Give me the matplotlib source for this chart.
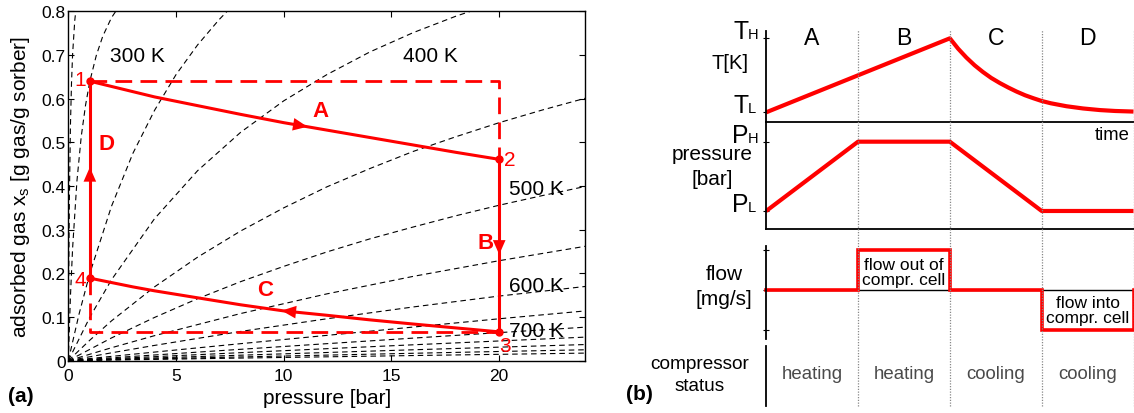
import numpy as np
import matplotlib
matplotlib.use("Agg")
import matplotlib.pyplot as plt
from matplotlib.lines import Line2D
from matplotlib import transforms

plt.rcParams['font.family'] = ['Liberation Sans', 'DejaVu Sans']
plt.rcParams['mathtext.fontset'] = 'custom'
plt.rcParams['mathtext.rm'] = 'Liberation Sans'

# -----------------------------
# (a) isotherms
# -----------------------------
iso_250_p = [0, 0.02, 0.05, 0.1, 0.15, 0.2, 0.3, 0.4]
iso_250_x = [0, 0.19, 0.37, 0.54, 0.638, 0.702, 0.779, 0.825]
iso_300_p = [0, 0.1, 0.2, 0.4, 0.6, 0.8, 1.0, 1.3, 1.6, 2.0, 2.5]
iso_300_x = [0, 0.148, 0.258, 0.411, 0.513, 0.585, 0.640, 0.699, 0.743, 0.785, 0.822]
iso_350_p = [0, 0.5, 1, 2, 3, 4, 5, 6, 7, 8]
iso_350_x = [0, 0.107, 0.200, 0.353, 0.475, 0.573, 0.655, 0.723, 0.781, 0.832]
iso_400_p = [0, 1, 2, 4, 6, 8, 10, 12, 14, 16, 18, 20]
iso_400_x = [0, 0.0996, 0.185, 0.325, 0.435, 0.523, 0.595, 0.655, 0.707, 0.751, 0.789, 0.822]
iso_450_p = [0, 1, 2, 4, 6, 8, 10, 12, 14, 16, 18, 20, 22, 24]
iso_450_x = [0, 0.047, 0.091, 0.169, 0.237, 0.297, 0.350, 0.398, 0.440, 0.479, 0.513, 0.545, 0.574, 0.601]
iso_500_p = [0, 2, 4, 6, 8, 10, 12, 14, 16, 18, 20, 22, 24]
iso_500_x = [0, 0.052, 0.099, 0.142, 0.181, 0.216, 0.249, 0.279, 0.306, 0.332, 0.356, 0.378, 0.399]
iso_550_p = [0, 2, 4, 8, 12, 16, 20, 24]
iso_550_x = [0, 0.0296, 0.0573, 0.108, 0.153, 0.193, 0.229, 0.262]
iso_600_p = [0, 2, 4, 8, 12, 16, 20, 24]
iso_600_x = [0, 0.018, 0.035, 0.067, 0.096, 0.123, 0.148, 0.170]
iso_hi_p = [0, 4, 8, 12, 16, 20, 24]
iso_650_x = [0, 0.0197, 0.039, 0.058, 0.077, 0.096, 0.114]
iso_700_x = [0, 0.0131, 0.0261, 0.039, 0.0517, 0.0643, 0.0768]
iso_750_x = [0, 0.0092, 0.0184, 0.0275, 0.0364, 0.0452, 0.054]
iso_800_x = [0, 0.0063, 0.0126, 0.0188, 0.025, 0.031, 0.037]
iso_850_x = [0, 0.0043, 0.0086, 0.0128, 0.017, 0.0211, 0.025]
iso_900_x = [0, 0.003, 0.006, 0.0089, 0.0118, 0.0146, 0.0174]

isotherms = [
    (iso_250_p, iso_250_x), (iso_300_p, iso_300_x), (iso_350_p, iso_350_x),
    (iso_400_p, iso_400_x), (iso_450_p, iso_450_x), (iso_500_p, iso_500_x),
    (iso_550_p, iso_550_x), (iso_600_p, iso_600_x), (iso_hi_p, iso_650_x),
    (iso_hi_p, iso_700_x), (iso_hi_p, iso_750_x), (iso_hi_p, iso_800_x),
    (iso_hi_p, iso_850_x), (iso_hi_p, iso_900_x),
]

# temperature labels: (text, p, x)
temp_labels = [("300 K", 3.2, 0.698), ("400 K", 16.8, 0.698), ("500 K", 21.75, 0.395),
               ("600 K", 21.75, 0.173), ("700 K", 21.75, 0.069)]

# cycle
cycle_p = [1, 2, 3, 4, 6, 8, 10, 12, 14, 16, 18, 20]
cycle_A_x = [0.640, 0.628, 0.616, 0.604, 0.584, 0.564, 0.545, 0.528, 0.511, 0.494, 0.477, 0.461]
cycle_C_x = [0.189, 0.179, 0.169, 0.160, 0.144, 0.128, 0.114, 0.104, 0.0935, 0.084, 0.075, 0.066]
state_p = [1, 20, 20, 1]
state_x = [0.640, 0.461, 0.066, 0.189]
state_names = ["1", "2", "3", "4"]
env_p = [1, 20]
env_x = [0.066, 0.641]

# -----------------------------
# (b) time traces (phase units, normalised levels)
# -----------------------------
phases = ["A", "B", "C", "D"]
status = ["heating", "heating", "cooling", "cooling"]
T_time = [0, 2, 2.09, 2.18, 2.27, 2.36, 2.45, 2.545, 2.636, 2.727, 2.82, 2.91, 3.0,
          3.1, 3.27, 3.45, 3.636, 3.8, 4.0]
T_level = [0, 1, 0.86, 0.74, 0.635, 0.545, 0.465, 0.395, 0.335, 0.28, 0.23, 0.19, 0.153,
           0.122, 0.082, 0.052, 0.03, 0.018, 0.01]
P_time = [0, 1, 2, 3, 4]
P_level = [0, 1, 1, 0, 0]
flow_time = [0, 1, 1, 2, 2, 3, 3, 4, 4]
flow_level = [0, 0, 1, 1, 0, 0, -1, -1, 0]

W, H = 1134, 414
fig = plt.figure(figsize=(W / 100, H / 100), dpi=100)


def fx(px):
    return px / W


def fy(py):
    return 1 - py / H


RED = '#ff0000'

# -----------------------------
# Panel (a)
# -----------------------------
ax = fig.add_axes([fx(68.3), fy(361.7), fx(585.4) - fx(68.3), fy(12.3) - fy(361.7)])
for p, x in isotherms:
    ax.plot(p, x, color='k', lw=0.8, dashes=(5, 3.5))

for txt, p, x in temp_labels:
    ax.text(p, x, txt, ha='center', va='center', fontsize=15)

# dashed envelope
ax.plot([env_p[0], env_p[0], env_p[1]], [state_x[3], env_x[0], env_x[0]],
        color=RED, lw=2, dashes=(6, 3))
ax.plot([env_p[0], env_p[1], env_p[1]], [env_x[1], env_x[1], state_x[1]],
        color=RED, lw=2, dashes=(6, 3))

# cycle
ax.plot(cycle_p, cycle_A_x, color=RED, lw=2.2)
ax.plot(cycle_p, cycle_C_x, color=RED, lw=2.2)
ax.plot([state_p[1], state_p[2]], [state_x[1], state_x[2]], color=RED, lw=2.2)
ax.plot([state_p[3], state_p[0]], [state_x[3], state_x[0]], color=RED, lw=2.2)
ax.plot(state_p, state_x, 'o', color=RED, ms=5)

arrow_kw = dict(arrowstyle='-|>,head_length=0.8,head_width=0.35', color=RED, lw=0,
                shrinkA=0, shrinkB=0, mutation_scale=13)
# A: rightwards along the curve
ax.annotate('', xy=(11.1, np.interp(11.1, cycle_p, cycle_A_x)),
            xytext=(10.3, np.interp(10.3, cycle_p, cycle_A_x)), arrowprops=arrow_kw)
# C: leftwards
ax.annotate('', xy=(9.9, np.interp(9.9, cycle_p, cycle_C_x)),
            xytext=(10.7, np.interp(10.7, cycle_p, cycle_C_x)), arrowprops=arrow_kw)
# B: down
ax.annotate('', xy=(20, 0.243), xytext=(20, 0.28), arrowprops=arrow_kw)
# D: up
ax.annotate('', xy=(1, 0.443), xytext=(1, 0.405), arrowprops=arrow_kw)

ax.text(11.7, 0.572, "A", color=RED, fontsize=16, fontweight='bold', ha='center', va='center')
ax.text(19.35, 0.271, "B", color=RED, fontsize=16, fontweight='bold', ha='center', va='center')
ax.text(9.15, 0.163, "C", color=RED, fontsize=16, fontweight='bold', ha='center', va='center')
ax.text(1.75, 0.498, "D", color=RED, fontsize=16, fontweight='bold', ha='center', va='center')

num_pos = [(0.55, 0.643), (20.5, 0.461), (20.25, 0.035), (0.55, 0.187)]
for name, (p, x) in zip(state_names, num_pos):
    ax.text(p, x, name, color=RED, fontsize=15, ha='center', va='center')

ax.set_xlim(0, 24)
ax.set_ylim(0, 0.8)
ax.set_xticks([0, 5, 10, 15, 20])
ax.set_xticklabels(["0", "5", "10", "15", "20"])
yt = np.arange(0, 0.81, 0.1)
ax.set_yticks(yt)
ax.set_yticklabels(["0"] + ["%.1f" % v for v in yt[1:]])
ax.tick_params(direction='in', length=4, width=0.8, top=True, right=True, labelsize=12.5)
ax.tick_params(axis='x', pad=5)
ax.tick_params(axis='y', pad=2)
for s in ax.spines.values():
    s.set_linewidth(1.0)
ax.set_xlabel("pressure [bar]", fontsize=15, labelpad=4)
ax.set_ylabel(r"adsorbed gas x$_{\mathregular{s}}$ [g gas/g sorber]", fontsize=15, labelpad=7)

fig.text(fx(8), fy(397), "(a)", fontsize=15, fontweight='bold', ha='left', va='center')

# -----------------------------
# Panel (b)
# -----------------------------
bx0, bx1 = 766.2, 1133.5
bw = fx(bx1) - fx(bx0)
axT = fig.add_axes([fx(bx0), fy(123), bw, fy(31.7) - fy(123)])
axP = fig.add_axes([fx(bx0), fy(230), bw, fy(123) - fy(230)])
axF = fig.add_axes([fx(bx0), fy(340), bw, fy(246.7) - fy(340)])
axS = fig.add_axes([fx(bx0), fy(406.7), bw, fy(346.7) - fy(406.7)])

for a in (axT, axP, axF, axS):
    a.set_xlim(0, 4)
    a.patch.set_alpha(0)
    a.spines['top'].set_visible(False)
    a.spines['right'].set_visible(False)
    a.spines['left'].set_linewidth(1.3)
    a.spines['bottom'].set_linewidth(1.3)
    a.set_xticks([])
    a.tick_params(axis='y', direction='inout', length=4, width=0.8, labelleft=False)
for a in (axF, axS):
    a.spines['bottom'].set_visible(False)

axT.set_ylim(-0.131, 1.103)
axT.set_yticks([0, 1])
axP.set_ylim(-0.26, 1.284)
axP.set_yticks([0, 1])
axF.set_ylim(-1.23, 1.1)
axF.set_yticks([-1, 0, 1])
axS.set_ylim(0, 1)
axS.set_yticks([])

axT.plot(T_time, T_level, color=RED, lw=3, clip_on=False, solid_capstyle='butt')
axP.plot(P_time, P_level, color=RED, lw=3, clip_on=False, solid_capstyle='butt')
axF.axhline(0, color='k', lw=1.0)
axF.plot(flow_time, flow_level, color=RED, lw=2.6, clip_on=False, solid_joinstyle='miter')

axF.text(1.5, 0.44, "flow out of\ncompr. cell", ha='center', va='center', fontsize=12.5,
         linespacing=1.0)
axF.text(3.5, -0.51, "flow into\ncompr. cell", ha='center', va='center', fontsize=12.5,
         linespacing=1.0)

trans = transforms.blended_transform_factory(axT.transData, fig.transFigure)
for t in range(1, 5):
    fig.add_artist(Line2D([t, t], [fy(406.7), fy(30.5)], transform=trans, color='#888888',
                          lw=0.9, linestyle=(0, (1, 1.2))))
for i, name in enumerate(phases):
    fig.text(i + 0.5, fy(38.3), name, transform=trans, ha='center', va='center', fontsize=16.6)
    fig.text(i + 0.5, fy(375), status[i], transform=trans, ha='center', va='center',
             fontsize=13.4, color='#4a4a4a')

fig.text(fx(1130), fy(135), "time", ha='right', va='center', fontsize=13.3)

# axis level labels: big letter plus small suffix on the same baseline
level_labels = [("T", "H", 39.3), ("T", "L", 113.3), ("P", "H", 142.7), ("P", "L", 212)]
for big, small, ypx in level_labels:
    fig.text(fx(749), fy(ypx), big, ha='right', va='baseline', fontsize=17.8)
    fig.text(fx(747.5), fy(ypx), small, ha='left', va='baseline', fontsize=10.5)

fig.text(fx(730), fy(63.3), "T[K]", ha='center', va='center', fontsize=14.5)
fig.text(fx(712), fy(155), "pressure", ha='center', va='center', fontsize=15)
fig.text(fx(712), fy(180), "[bar]", ha='center', va='center', fontsize=15)
fig.text(fx(724), fy(275), "flow", ha='center', va='center', fontsize=15)
fig.text(fx(724), fy(300), "[mg/s]", ha='center', va='center', fontsize=15)
fig.text(fx(700), fy(365), "compressor", ha='center', va='center', fontsize=13.7)
fig.text(fx(700), fy(387), "status", ha='center', va='center', fontsize=13.7)
fig.text(fx(626), fy(395), "(b)", fontsize=15, fontweight='bold', ha='left', va='center')

fig.savefig("out.png", dpi=100)
